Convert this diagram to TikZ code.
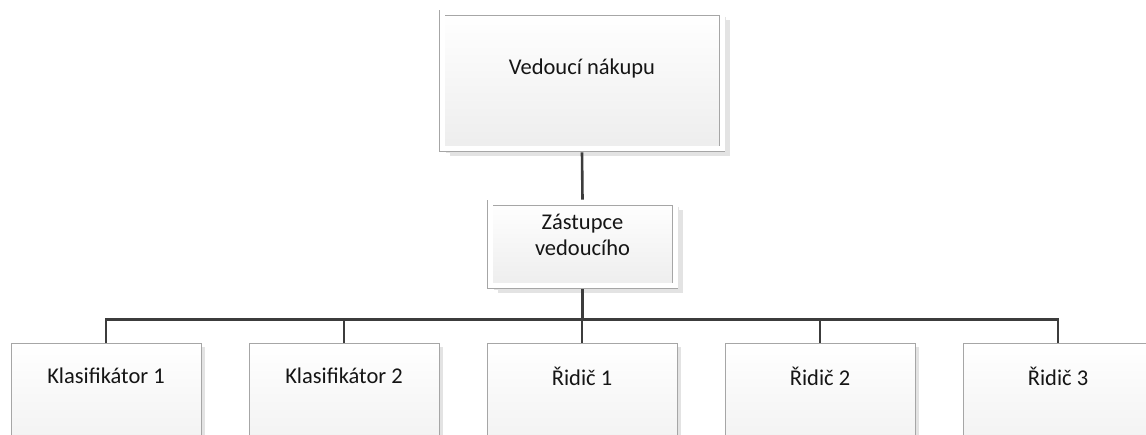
\documentclass[tikz,border=0pt]{standalone}
\usepackage{fontspec}
\setmainfont{Carlito}
\usetikzlibrary{shadows}
\definecolor{edgegray}{HTML}{A6A6A6}
\definecolor{wiregray}{HTML}{3C3C3C}
\definecolor{ink}{HTML}{151515}
\tikzset{
  box/.style={rectangle, draw=edgegray, line width=0.9pt, inner sep=0pt,
    top color=white, bottom color=black!7,
    drop shadow={shadow xshift=4pt, shadow yshift=-4pt, opacity=1, fill=black!11}},
  framedbox/.style={box, double=white, double distance=5pt, outer sep=3.4pt,
    drop shadow={shadow xshift=8pt, shadow yshift=-7pt, opacity=1, fill=black!11}},
  wire/.style={draw=wiregray, line width=2.6pt},
  caption/.style={font=\fontsize{22.5}{26}\selectfont, text=ink, align=center, anchor=center}
}
\begin{document}
\begin{tikzpicture}[x=1pt, y=-1pt]
\useasboundingbox (0,0) rectangle (1146,435);
\clip (0,0) rectangle (1146,435);

% head of purchasing
\node[framedbox, minimum width=280pt, minimum height=136pt,
      label={[caption, yshift=-58.5pt]north:Vedoucí nákupu}] (head) at (582,81) {};

% deputy
\node[framedbox, minimum width=185pt, minimum height=83pt,
      label={[caption, yshift=-35pt]north:Zástupce\\vedoucího}] (dep) at (582.5,244.5) {};

% staff row
\foreach \name/\x/\txt in {k1/106/Klasifikátor 1, k2/344/Klasifikátor 2,
                           r1/582/Řidič 1, r2/820/Řidič 2, r3/1058/Řidič 3}
  \node[box, minimum width=190pt, minimum height=140pt,
        label={[caption, yshift=-33.5pt]north:\txt}] (\name) at (\x,413) {};

% connectors
\draw[wire] (head.south) -- (dep.north);
\foreach \c in {k1,k2,r1,r2,r3}
  \draw[wire] (dep.south) -- ++(0,30) -| (\c.north);
\end{tikzpicture}
\end{document}
